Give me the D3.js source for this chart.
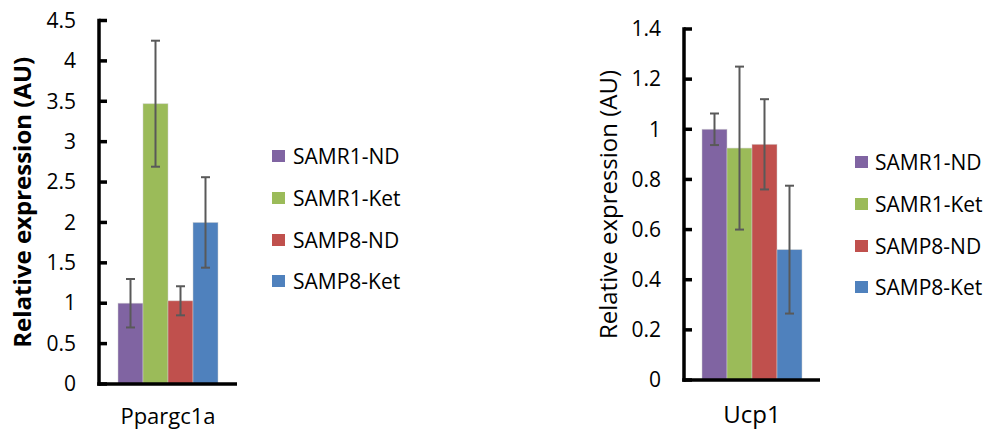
<!DOCTYPE html>
<html><head><meta charset="utf-8">
<script src="https://cdn.jsdelivr.net/npm/d3@7"></script>
<style>
body{margin:0;background:#fff}
svg{display:block}
text{font-family:"Open Sans","Noto Sans",sans-serif;fill:#000}
</style>
</head><body>
<svg id="chart" width="988" height="429"></svg>
<script>
// ---- data ----
const series = ["SAMR1-ND", "SAMR1-Ket", "SAMP8-ND", "SAMP8-Ket"];
const seriesColors = ["#8064A2", "#9BBB59", "#C0504D", "#4F81BD"];
const genes = ["Ppargc1a", "Ucp1"];
const ppargcValues = [1.00, 3.47, 1.03, 2.00];
const ppargcErrors = [0.30, 0.78, 0.18, 0.56];
const ucp1Values = [1.00, 0.925, 0.94, 0.52];
const ucp1Errors = [0.063, 0.325, 0.18, 0.255];
const ppargcTicks = [0, 0.5, 1, 1.5, 2, 2.5, 3, 3.5, 4, 4.5];
const ppargcTickLabels = ["0", "0.5", "1", "1.5", "2", "2.5", "3", "3.5", "4", "4.5"];
const ucp1Ticks = [0, 0.2, 0.4, 0.6, 0.8, 1, 1.2, 1.4];
const ucp1TickLabels = ["0", "0.2", "0.4", "0.6", "0.8", "1", "1.2", "1.4"];
const yTitle = "Relative expression (AU)";

// ---- layout ----
const panels = [
  {gene: genes[0], values: ppargcValues, errors: ppargcErrors, ticks: ppargcTicks, tickLabels: ppargcTickLabels,
   x0: 99, x1: 237, yTop: 20.5, yBottom: 384, titleX: 23, titleBold: true, labelSize: 22, labelY: 423.5,
   legendSq: 272, legendText: 293, legendRows: [156, 198, 240, 281]},
  {gene: genes[1], values: ucp1Values, errors: ucp1Errors, ticks: ucp1Ticks, tickLabels: ucp1TickLabels,
   x0: 684, x1: 820, yTop: 29, yBottom: 380, titleX: 609, titleBold: false, labelSize: 24, labelY: 422.5,
   legendSq: 855, legendText: 875, legendRows: [162, 204, 246, 287]}
];

const svg = d3.select("#chart");
const AX = 3.5; // axis thickness

panels.forEach(p => {
  const g = svg.append("g");
  const y = d3.scaleLinear()
    .domain([p.ticks[0], p.ticks[p.ticks.length - 1]])
    .range([p.yBottom, p.yTop]);
  const xBand = d3.scaleBand().domain([p.gene]).range([p.x0, p.x1]);
  const center = xBand(p.gene) + xBand.bandwidth() / 2;
  const groupW = 100;
  const xs = d3.scaleBand().domain(series).range([center - groupW / 2, center + groupW / 2]);

  // bars
  g.selectAll("rect.bar").data(series).join("rect")
    .attr("class", "bar")
    .attr("x", d => xs(d))
    .attr("width", xs.bandwidth())
    .attr("y", (d, i) => y(p.values[i]))
    .attr("height", (d, i) => y(0) - y(p.values[i]))
    .attr("fill", (d, i) => seriesColors[i])
    .attr("stroke", "rgba(210,210,210,0.6)")
    .attr("stroke-width", 0.8);

  // error bars
  const eb = g.selectAll("g.err").data(series).join("g").attr("class", "err")
    .style("stroke", "#595959").style("stroke-width", "2px");
  eb.append("line")
    .attr("x1", d => xs(d) + xs.bandwidth() / 2)
    .attr("x2", d => xs(d) + xs.bandwidth() / 2)
    .attr("y1", (d, i) => y(p.values[i] + p.errors[i]))
    .attr("y2", (d, i) => y(p.values[i] - p.errors[i]));
  [1, -1].forEach(s => {
    eb.append("line")
      .attr("x1", d => xs(d) + xs.bandwidth() / 2 - 4.5)
      .attr("x2", d => xs(d) + xs.bandwidth() / 2 + 4.5)
      .attr("y1", (d, i) => y(p.values[i] + s * p.errors[i]))
      .attr("y2", (d, i) => y(p.values[i] + s * p.errors[i]));
  });

  // y axis labels via d3 axis
  const yAxis = d3.axisLeft(y)
    .tickValues(p.ticks)
    .tickFormat((d, i) => p.tickLabels[i])
    .tickSize(0)
    .tickPadding(23);
  const ya = g.append("g").attr("transform", `translate(${p.x0},0)`).call(yAxis);
  ya.select(".domain").remove();
  ya.selectAll(".tick line").remove();
  ya.selectAll(".tick text")
    .attr("font-family", '"Open Sans","Noto Sans",sans-serif')
    .attr("font-size", 21).attr("fill", "#000");

  // tick marks (inside) as filled rects
  g.selectAll("rect.tick").data(p.ticks).join("rect")
    .attr("class", "tick")
    .attr("x", p.x0).attr("width", 8)
    .attr("y", d => y(d) - AX / 2).attr("height", AX)
    .attr("fill", "#000");

  // vertical axis line
  g.append("rect")
    .attr("x", p.x0 - AX / 2).attr("width", AX)
    .attr("y", y.range()[1] - AX / 2).attr("height", y.range()[0] - y.range()[1] + AX)
    .attr("fill", "#000");

  // x axis baseline
  g.append("rect")
    .attr("x", p.x0 - AX / 2).attr("width", p.x1 - p.x0 + AX / 2)
    .attr("y", y(0) - AX / 2).attr("height", AX)
    .attr("fill", "#000");

  // category label
  g.append("text")
    .attr("x", center).attr("y", p.labelY)
    .attr("text-anchor", "middle")
    .style("font-size", p.labelSize + "px")
    .text(p.gene);

  // y title
  g.append("text")
    .attr("transform", `translate(${p.titleX},${(p.yTop + p.yBottom) / 2}) rotate(-90)`)
    .attr("text-anchor", "middle")
    .attr("dy", "0.35em")
    .style("font-size", "24px")
    .style("font-weight", p.titleBold ? "bold" : "normal")
    .text(yTitle);

  // legend
  const lg = g.selectAll("g.leg").data(series).join("g").attr("class", "leg");
  lg.append("rect")
    .attr("x", p.legendSq).attr("width", 13)
    .attr("y", (d, i) => p.legendRows[i] - 6).attr("height", 12)
    .attr("fill", (d, i) => seriesColors[i]);
  lg.append("text")
    .attr("x", p.legendText).attr("y", (d, i) => p.legendRows[i])
    .attr("dy", "0.36em")
    .style("font-size", "21px")
    .text(d => d);
});
</script>
</body></html>
